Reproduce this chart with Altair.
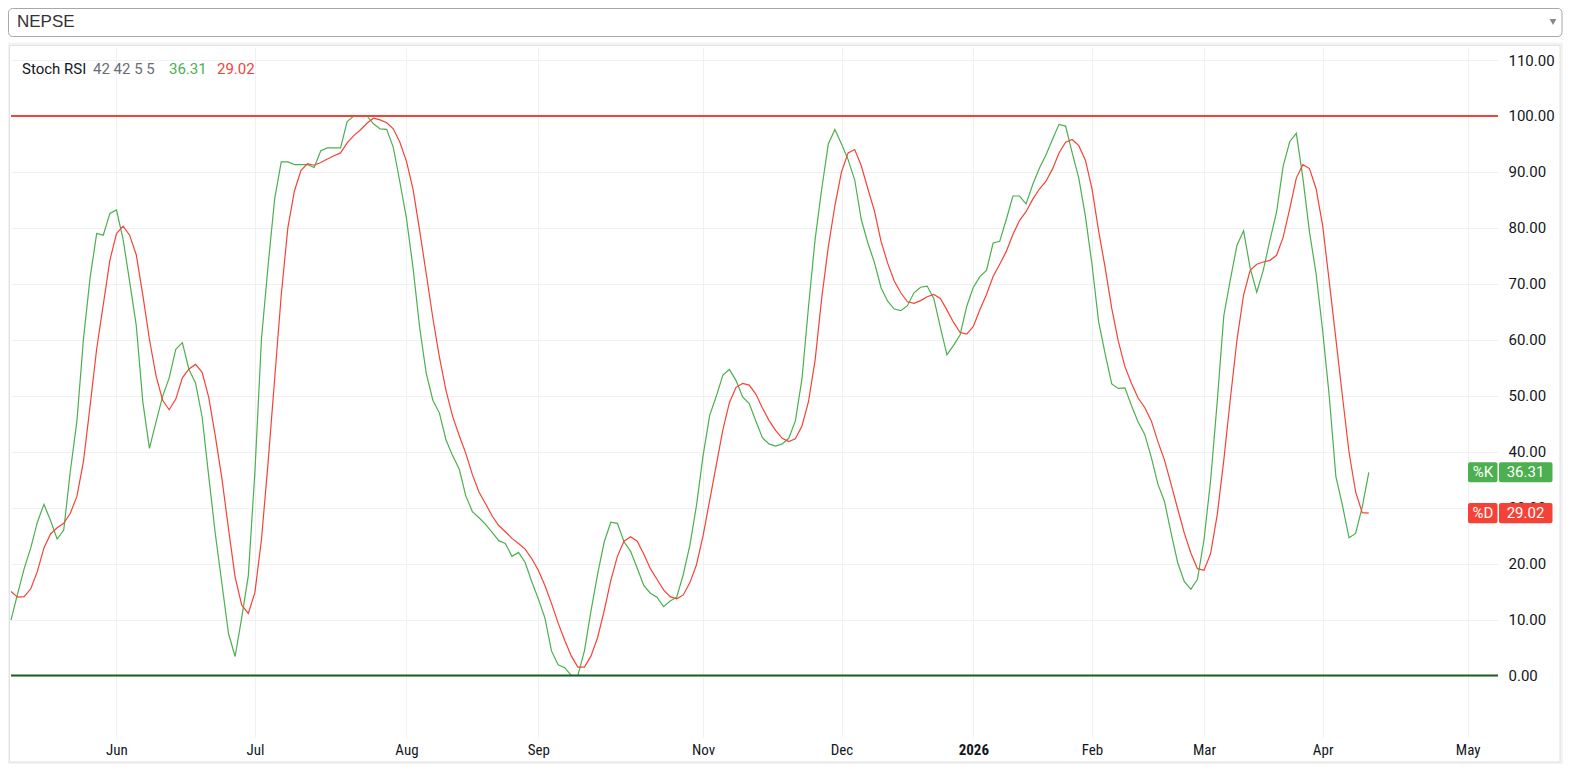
import altair as alt
import pandas as pd

SYMBOL = "NEPSE"
TITLE = "Stoch RSI"
PARAMS_TEXT = "42 42 5 5"

K_VALUES = [
    9.9, 14.6, 19.1, 22.8, 27.4, 30.6, 27.7, 24.4, 26.0, 36.5,
    45.5, 60.2, 71.1, 79.0, 78.7, 82.6, 83.2, 78.0, 70.4, 62.6,
    48.9, 40.6, 45.3, 49.9, 53.2, 58.3, 59.5, 54.7, 52.3, 46.2,
    35.6, 25.3, 16.4, 7.5, 3.4, 10.3, 17.8, 36.3, 60.2, 73.2,
    85.2, 91.8, 91.8, 91.3, 91.3, 91.3, 90.8, 93.8, 94.3, 94.3,
    94.3, 99.0, 100.0, 100.0, 100.0, 98.6, 97.7, 97.6, 94.4, 88.2,
    81.7, 72.8, 62.2, 54.0, 49.2, 46.9, 42.1, 39.3, 36.9, 32.1,
    29.3, 28.2, 27.0, 25.6, 24.1, 23.6, 21.3, 22.0, 20.2, 16.8,
    13.7, 10.3, 4.4, 1.9, 1.4, 0.0, 0.0, 4.4, 11.6, 18.1,
    23.9, 27.4, 27.2, 23.9, 22.2, 19.2, 16.1, 14.7, 14.0, 12.3,
    13.3, 14.0, 18.1, 23.3, 30.4, 39.3, 46.5, 49.9, 53.7, 54.7,
    52.7, 49.8, 48.6, 45.5, 42.5, 41.4, 41.0, 41.4, 42.4, 45.5,
    53.0, 66.0, 78.0, 87.0, 95.0, 97.6, 95.0, 92.2, 88.6, 81.5,
    77.3, 73.8, 69.3, 66.9, 65.5, 65.2, 66.1, 68.4, 69.4, 69.6,
    67.4, 62.2, 57.3, 59.0, 60.9, 66.0, 69.4, 71.3, 72.4, 77.3,
    77.6, 81.5, 85.7, 85.7, 84.3, 87.7, 90.6, 93.0, 95.8, 98.5,
    98.2, 93.4, 88.9, 82.1, 73.5, 63.3, 57.5, 52.1, 51.3, 51.4,
    48.2, 45.3, 43.1, 39.0, 34.2, 31.1, 25.5, 20.2, 16.8, 15.4,
    17.2, 24.3, 34.9, 48.9, 64.3, 70.8, 76.9, 79.5, 72.8, 68.5,
    72.5, 77.8, 82.8, 91.0, 95.4, 96.9, 88.9, 79.3, 71.8, 61.6,
    49.9, 35.6, 30.4, 24.6, 25.4, 30.1, 36.31,
]

D_VALUES = [
    15.0, 14.0, 14.1, 15.5, 18.6, 22.8, 25.3, 26.4, 27.2, 29.0,
    32.0, 38.3, 48.2, 58.4, 66.3, 74.2, 79.0, 80.3, 78.7, 75.2,
    68.0, 60.1, 53.6, 49.2, 47.5, 49.4, 53.2, 54.8, 55.6, 54.2,
    49.7, 42.8, 35.2, 26.2, 17.6, 12.6, 11.1, 14.8, 24.3, 38.0,
    53.0, 68.0, 80.0, 86.6, 90.3, 91.5, 91.2, 91.7, 92.3, 92.9,
    93.4, 95.2, 96.5, 97.5, 98.7, 99.6, 99.3, 98.8, 97.7, 95.3,
    91.9, 86.9, 79.5, 71.8, 63.9, 56.9, 50.9, 46.3, 42.9, 39.7,
    35.9, 32.8, 30.7, 28.5, 26.8, 25.7, 24.5, 23.6, 22.6, 20.9,
    18.8, 16.1, 12.9, 9.4, 6.3, 3.5, 1.5, 1.5, 3.5, 6.8,
    11.6, 17.0, 21.3, 24.0, 24.8, 24.0, 21.7, 19.1, 17.2, 15.3,
    14.1, 13.7, 14.4, 16.6, 19.8, 25.0, 31.3, 37.6, 43.9, 48.8,
    51.5, 52.2, 51.9, 50.3, 47.8, 45.6, 43.8, 42.4, 41.8, 42.3,
    44.6, 49.0, 56.4, 67.5, 76.6, 84.0, 90.0, 93.4, 94.0, 91.1,
    87.0, 83.0, 77.6, 73.7, 70.5, 68.4, 66.8, 66.5, 67.0, 67.7,
    68.1, 67.4, 65.3, 63.1, 61.3, 61.0, 62.4, 65.4, 68.1, 71.3,
    73.5, 75.8, 78.8, 81.3, 82.9, 85.1, 86.9, 88.3, 90.5, 93.4,
    95.3, 95.8, 94.7, 92.1, 87.0, 79.5, 72.9, 65.6, 59.7, 55.2,
    52.2, 49.6, 47.9, 45.5, 41.8, 38.5, 34.2, 29.8, 25.5, 21.9,
    19.1, 18.8, 21.8, 28.7, 38.5, 49.5, 60.0, 68.0, 72.4, 73.5,
    73.9, 74.2, 75.1, 78.3, 83.4, 88.9, 91.3, 90.6, 87.0, 80.4,
    70.4, 60.2, 49.9, 39.9, 32.8, 29.1, 29.02,
]

# bar index of the first bar of each month, and its label
MONTH_TICKS = [16, 37, 60, 80, 105, 126, 146, 164, 181, 199, 221]
MONTH_LABELS = ["Jun", "Jul", "Aug", "Sep", "Nov", "Dec", "2026", "Feb", "Mar", "Apr", "May"]
YEAR_TICK = 146
Y_TICKS = [0, 10, 20, 30, 40, 50, 60, 70, 80, 90, 100, 110]
UPPER_BAND = 100
LOWER_BAND = 0

# ---------------- styling ----------------
W, H = 1487, 691
X_DOMAIN = [0, 225.6]
Y_DOMAIN = [-11.17, 112.33]
GREEN = "#4caf50"
RED = "#f44336"
ZERO_GREEN = "#1b5e20"
GRID = "#eff1f4"
TEXT = "#131722"
FONT = "Roboto"
XFONT = "Liberation Sans Narrow, Roboto Condensed, Roboto, sans-serif"

df = pd.DataFrame({"bar": list(range(len(K_VALUES))), "k": K_VALUES, "d": D_VALUES})

xs = alt.Scale(domain=X_DOMAIN, nice=False, zero=False)
ys = alt.Scale(domain=Y_DOMAIN, nice=False, zero=False)

label_expr = " : ".join(
    f"datum.value == {t} ? '{l}'" for t, l in zip(MONTH_TICKS, MONTH_LABELS)
) + " : ''"

x_axis = alt.Axis(
    values=MONTH_TICKS, labelExpr=label_expr, grid=True, gridColor=GRID,
    ticks=False, domain=False, labelPadding=4, labelFontSize=15, labelFont=XFONT,
    labelColor=TEXT, labelOverlap=False, labelFlush=False, title=None,
    labelFontWeight={"condition": {"test": f"datum.value == {YEAR_TICK}", "value": "bold"},
                     "value": "normal"},
)
y_axis = alt.Axis(
    orient="right", values=Y_TICKS, format=".2f", grid=True, gridColor=GRID,
    ticks=False, domain=False, labelPadding=10, labelFontSize=15, labelFont=FONT,
    labelColor=TEXT, labelAlign="left", title=None,
)

one = pd.DataFrame({"a": [0]})

# page frame (dropdown + chart panel)
panel_shadow = alt.Chart(one).mark_rect(filled=False, stroke="#f3f3f3", strokeWidth=3).encode(
    x=alt.value(-3), x2=alt.value(1550.5), y=alt.value(-3), y2=alt.value(716))
panel = alt.Chart(one).mark_rect(filled=False, stroke="#e2e2e2", strokeWidth=1).encode(
    x=alt.value(-1.5), x2=alt.value(1549), y=alt.value(-1.5), y2=alt.value(715))
dropdown = alt.Chart(one).mark_rect(fill="white", stroke="#a8a8a8", strokeWidth=1, cornerRadius=4).encode(
    x=alt.value(-2.5), x2=alt.value(1551), y=alt.value(-38.5), y2=alt.value(-10.5))
dropdown_text = alt.Chart(one).mark_text(
    align="left", baseline="middle", fontSize=17, font="Liberation Sans", color="#333333", text=SYMBOL
).encode(x=alt.value(6), y=alt.value(-25))
dropdown_arrow = alt.Chart(one).mark_point(
    shape="triangle-down", filled=True, color="#888888", size=45, opacity=1
).encode(x=alt.value(1542), y=alt.value(-25))

# bands
upper = alt.Chart(pd.DataFrame({"level": [UPPER_BAND]})).mark_rule(color=RED, strokeWidth=2).encode(
    y=alt.Y("level:Q", scale=ys, axis=y_axis))
lower = alt.Chart(pd.DataFrame({"level": [LOWER_BAND]})).mark_rule(color=ZERO_GREEN, strokeWidth=2).encode(
    y=alt.Y("level:Q", scale=ys, axis=y_axis))

k_line = alt.Chart(df).mark_line(color=GREEN, strokeWidth=1.2).encode(
    x=alt.X("bar:Q", scale=xs, axis=x_axis),
    y=alt.Y("k:Q", scale=ys, axis=y_axis),
)
d_line = alt.Chart(df).mark_line(color=RED, strokeWidth=1.2).encode(
    x=alt.X("bar:Q", scale=xs, axis=x_axis),
    y=alt.Y("d:Q", scale=ys, axis=y_axis),
)

# legend line (top-left)
k_last = K_VALUES[-1]
d_last = D_VALUES[-1]
legend_parts = [
    (TITLE, 11, TEXT),
    (PARAMS_TEXT, 82, "#6a6d78"),
    (f"{k_last:.2f}", 158, GREEN),
    (f"{d_last:.2f}", 206, RED),
]
legend_layers = [
    alt.Chart(one).mark_text(align="left", baseline="middle", fontSize=15, font=FONT,
                             color=c, text=t).encode(x=alt.value(px), y=alt.value(22))
    for t, px, c in legend_parts
]


def tag(name, value, color):
    d = pd.DataFrame({"v": [value], "name": [name], "txt": [f"{value:.2f}"]})
    base = alt.Chart(d).transform_calculate(top="datum.v + 1.79", bot="datum.v - 1.79")
    r1 = base.mark_rect(color=color, cornerRadius=2).encode(
        x=alt.value(1457), x2=alt.value(1486.5),
        y=alt.Y("top:Q", scale=ys, axis=y_axis), y2="bot:Q")
    r2 = base.mark_rect(color=color, cornerRadius=2).encode(
        x=alt.value(1488), x2=alt.value(1541.5),
        y=alt.Y("top:Q", scale=ys, axis=y_axis), y2="bot:Q")
    t1 = base.mark_text(color="white", fontSize=15, font=FONT, baseline="middle").encode(
        x=alt.value(1472), y=alt.Y("v:Q", scale=ys, axis=y_axis), text="name:N")
    t2 = base.mark_text(color="white", fontSize=15, font=FONT, baseline="middle").encode(
        x=alt.value(1514.5), y=alt.Y("v:Q", scale=ys, axis=y_axis), text="txt:N")
    return [r1, r2, t1, t2]


layers = [panel_shadow, panel, dropdown, dropdown_text, dropdown_arrow,
          k_line, upper, lower, d_line] + legend_layers + tag("%K", k_last, GREEN) + tag("%D", d_last, RED)

chart = alt.layer(*layers).properties(
    width=W, height=H,
    padding={"left": 3, "top": 39, "right": 65, "bottom": 26},
    autosize=alt.AutoSizeParams(type="none"),
    background="white",
).configure_view(stroke=None)

chart.save("out.html", embed_options={"renderer": "svg", "actions": False})
